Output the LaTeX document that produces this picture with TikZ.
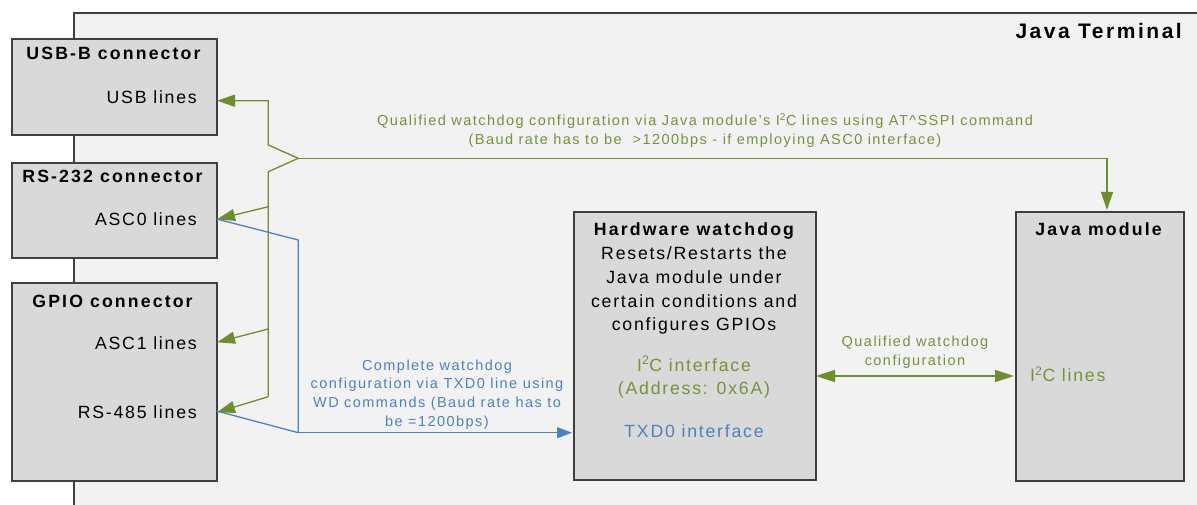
\documentclass[tikz,border=0pt]{standalone}
\usepackage{fontspec}
\setmainfont{Liberation Sans}[LetterSpace=10,BoldFeatures={LetterSpace=12}]
\usetikzlibrary{arrows.meta}
\definecolor{termbg}{HTML}{F2F2F2}
\definecolor{boxfill}{HTML}{D9D9D9}
\definecolor{boxline}{HTML}{3F3F3F}
\definecolor{wdgreen}{HTML}{76923C}
\definecolor{wdgline}{HTML}{6E8C30}
\definecolor{wdblue}{HTML}{4F81BD}
\newcommand\fbig{\fontsize{17.7}{23.5}\selectfont}
\newcommand\fsmall{\fontsize{14.5}{18.7}\selectfont}
\newcommand\fterm{\fontsize{21}{25}\selectfont}
\newcommand\cstack[2]{\vtop{\baselineskip=#1\lineskiplimit=-100pt\lineskip=0pt\halign{\hfil##\hfil\cr#2\crcr}}}
\begin{document}
\begin{tikzpicture}[x=1pt,y=-1pt,
  termbox/.style={draw=boxline, fill=termbg, line width=1.8pt, anchor=north west, inner sep=0pt},
  box/.style={draw=boxline, fill=boxfill, line width=1.9pt, anchor=north west, inner sep=0pt},
  ttl/.style={font=\fbig\bfseries, inner sep=0pt, anchor=base},
  lbl/.style={font=\fbig, inner sep=0pt, anchor=base},
  glbl/.style={font=\fsmall, text=wdgreen, inner sep=0pt, anchor=base},
  blbl/.style={font=\fsmall, text=wdblue, inner sep=0pt, anchor=base},
  gline/.style={draw=wdgline, line width=1.3pt},
  garrow/.style={gline, -{Triangle[length=18pt,width=12pt]}},
  gdarrow/.style={gline, {Triangle[length=19pt,width=12pt]}-{Triangle[length=19pt,width=12pt]}},
  bline/.style={draw=wdblue, line width=1.3pt},
  barrow/.style={bline, -{Triangle[length=15pt,width=11pt]}},
]
\useasboundingbox (0,0) rectangle (1197,505);
\fill[white] (0,0) rectangle (1197,505);

% outer terminal frame (extends beyond right/bottom edge)
\node[termbox, minimum width=1140pt, minimum height=510pt] (term) at (73,12.5) {};
\node[font=\fterm\bfseries, inner sep=0pt, anchor=base east] (termt) at (1182,38.2) {Java Terminal};

% connector boxes
\node[box, minimum width=205pt, minimum height=96pt] (usb) at (11,38) {};
\node[box, minimum width=205pt, minimum height=95pt] (rs232) at (11,162) {};
\node[box, minimum width=205pt, minimum height=198pt] (gpio) at (11,282) {};
\node[box, minimum width=242pt, minimum height=268pt] (hw) at (573,211) {};
\node[box, minimum width=168pt, minimum height=269pt] (java) at (1015,211) {};

\node[ttl] (usbt) at (113.5,59.3) {USB-B connector};
\node[lbl, anchor=base east] (usbl) at (197,103.3) {USB lines};
\node[ttl] (rs232t) at (112.5,182.3) {RS-232 connector};
\node[lbl, anchor=base east] (asc0l) at (197,225.3) {ASC0 lines};
\node[ttl] (gpiot) at (112.5,307) {GPIO connector};
\node[lbl, anchor=base east] (asc1l) at (197,349.6) {ASC1 lines};
\node[lbl, anchor=base east] (rs485l) at (197,418.6) {RS-485 lines};

\node[lbl] (hwt) at (694,236) {\cstack{23.75pt}{\bfseries Hardware watchdog\cr Resets/Restarts the\cr Java module under\cr certain conditions and\cr configures GPIOs}};
\node[lbl, text=wdgreen] (hwi2c) at (694,371) {\cstack{23pt}{I\textsuperscript{2}C interface\cr (Address: 0x6A)}};
\node[lbl, text=wdblue] (hwtxd) at (694,437) {TXD0 interface};

\node[ttl] (javat) at (1098.5,235.6) {Java module};
\node[lbl, text=wdgreen, anchor=base west] (javai2c) at (1030,381.3) {I\textsuperscript{2}C lines};

% labels on connectors
\node[glbl] (toplbl) at (705,126) {\cstack{19pt}{Qualified watchdog configuration via Java module’s I\textsuperscript{2}C lines using AT\textasciicircum SSPI command\cr (Baud rate has to be\ \ >1200bps - if employing ASC0 interface)}};
\node[glbl] (midlbl) at (915,346.7) {\cstack{18.3pt}{Qualified watchdog\cr configuration}};
\node[blbl] (bluelbl) at (437,370) {\cstack{18.7pt}{Complete watchdog\cr configuration via TXD0 line using\cr WD commands (Baud rate has to\cr be =1200bps)}};

% green tree
\coordinate (jn) at (298.3,158.3);
\coordinate (gtop) at (268.3,145);
\coordinate (gbot) at (268.3,171.7);
\coordinate (gend) at (268.3,396.7);
\coordinate (usbin) at (217,100.7);
\coordinate (asc0in) at (217,219.3);
\coordinate (asc1in) at (217,342.3);
\coordinate (rs485in) at (217,412.3);
\coordinate (javain) at (1107,210);
\draw[garrow] (jn) -- (gtop) -- (268.3,100.7) -- (usbin);
\draw[gline] (jn) -- (gbot) -- (gend);
\draw[garrow] (268.3,206.7) -- (asc0in);
\draw[garrow] (268.3,329) -- (asc1in);
\draw[garrow] (gend) -- (rs485in);
\draw[garrow] (jn) -| (javain);

% blue path
\coordinate (asc0out) at (216.7,219);
\coordinate (rs485out) at (216.7,411);
\coordinate (bj) at (298.3,432.7);
\coordinate (hwin) at (572,432.7);
\draw[bline] (asc0out) -- (298.3,240) -- (bj);
\draw[bline] (rs485out) -- (bj);
\draw[barrow] (bj) -- (hwin);

% hw <-> java
\coordinate (hwout) at (816,376);
\coordinate (javaleft) at (1014,376);
\draw[gdarrow] (hwout) -- (javaleft);
\end{tikzpicture}
\end{document}
